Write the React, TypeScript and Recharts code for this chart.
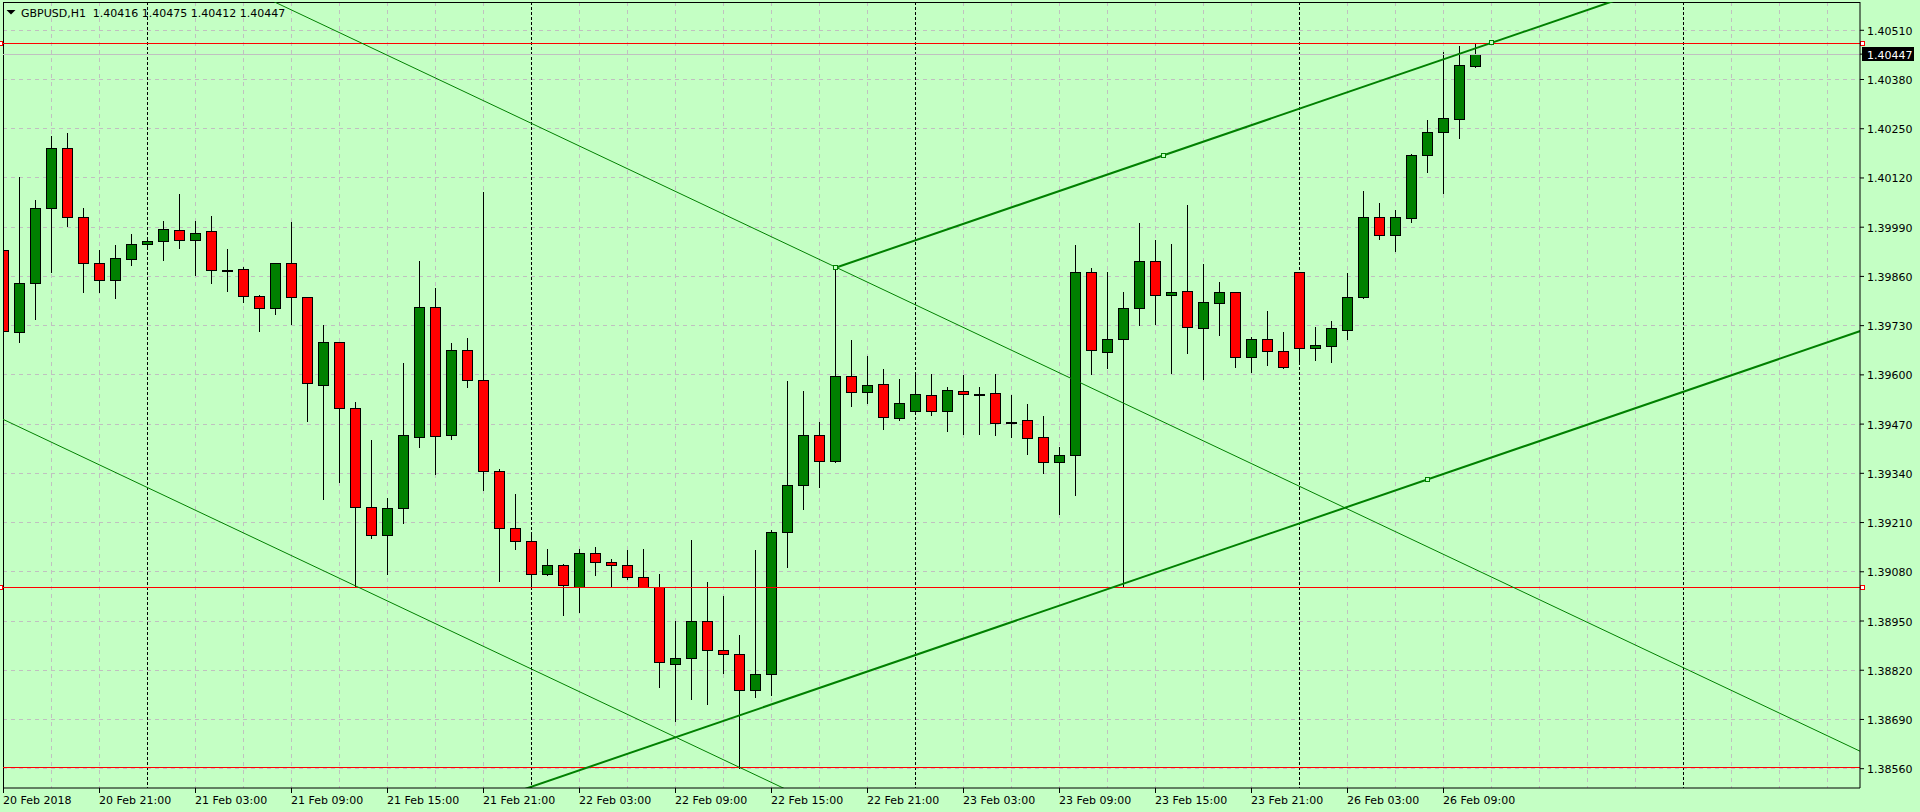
import React from 'react';
import { ComposedChart, Bar, XAxis, YAxis, ReferenceLine, ReferenceDot, CartesianGrid } from 'recharts';

// ---------- data ----------
const symbolTitle = 'GBPUSD,H1';

const opens = [
  1.39929, 1.39712, 1.39842, 1.40040, 1.40198, 1.40016, 1.39895, 1.39850, 1.39905, 1.39945,
  1.39953, 1.39982, 1.39955, 1.39979, 1.39877, 1.39879, 1.39808, 1.39776, 1.39895, 1.39805,
  1.39572, 1.39686, 1.39512, 1.39250, 1.39176, 1.39248, 1.39435, 1.39779, 1.39440, 1.39665,
  1.39586, 1.39347, 1.39195, 1.39160, 1.39073, 1.39099, 1.39041, 1.39129, 1.39107, 1.39099,
  1.39065, 1.39041, 1.38837, 1.38851, 1.38949, 1.38873, 1.38864, 1.38768, 1.38811, 1.39186,
  1.39310, 1.39440, 1.39373, 1.39596, 1.39555, 1.39575, 1.39486, 1.39504, 1.39546, 1.39504,
  1.39557, 1.39550, 1.39551, 1.39475, 1.39480, 1.39435, 1.39369, 1.39388, 1.39871, 1.39661,
  1.39694, 1.39776, 1.39900, 1.39810, 1.39821, 1.39723, 1.39789, 1.39818, 1.39646, 1.39694,
  1.39662, 1.39871, 1.39670, 1.39677, 1.39718, 1.39805, 1.40016, 1.39969, 1.40014, 1.40180,
  1.40241, 1.40275, 1.40416,
];
const highs = [
  1.40128, 1.40123, 1.40062, 1.40231, 1.40238, 1.40040, 1.39930, 1.39942, 1.39971, 1.39955,
  1.40006, 1.40078, 1.40006, 1.40020, 1.39932, 1.39885, 1.39811, 1.39896, 1.40004, 1.39806,
  1.39732, 1.39687, 1.39528, 1.39428, 1.39274, 1.39631, 1.39901, 1.39829, 1.39683, 1.39697,
  1.40083, 1.39352, 1.39285, 1.39179, 1.39140, 1.39100, 1.39140, 1.39146, 1.39113, 1.39138,
  1.39140, 1.39074, 1.38949, 1.39165, 1.39054, 1.39015, 1.38913, 1.39138, 1.39190, 1.39583,
  1.39557, 1.39475, 1.39883, 1.39693, 1.39649, 1.39616, 1.39588, 1.39602, 1.39602, 1.39569,
  1.39600, 1.39567, 1.39602, 1.39547, 1.39523, 1.39491, 1.39410, 1.39943, 1.39881, 1.39872,
  1.39819, 1.40001, 1.39956, 1.39946, 1.40049, 1.39893, 1.39845, 1.39819, 1.39701, 1.39769,
  1.39713, 1.39872, 1.39727, 1.39742, 1.39869, 1.40086, 1.40053, 1.40035, 1.40183, 1.40272,
  1.40452, 1.40469, 1.40475,
];
const lows = [
  1.39674, 1.39688, 1.39748, 1.39872, 1.39993, 1.39820, 1.39820, 1.39804, 1.39891, 1.39938,
  1.39904, 1.39936, 1.39864, 1.39843, 1.39822, 1.39793, 1.39717, 1.39762, 1.39735, 1.39479,
  1.39273, 1.39318, 1.39041, 1.39168, 1.39074, 1.39210, 1.39410, 1.39337, 1.39430, 1.39567,
  1.39295, 1.39056, 1.39141, 1.39040, 1.39071, 1.38965, 1.38973, 1.39071, 1.39041, 1.39060,
  1.39040, 1.38776, 1.38687, 1.38743, 1.38732, 1.38812, 1.38561, 1.38748, 1.38754, 1.39093,
  1.39245, 1.39304, 1.39371, 1.39519, 1.39527, 1.39458, 1.39482, 1.39502, 1.39493, 1.39451,
  1.39444, 1.39444, 1.39441, 1.39437, 1.39391, 1.39342, 1.39233, 1.39283, 1.39602, 1.39617,
  1.39040, 1.39732, 1.39735, 1.39606, 1.39659, 1.39590, 1.39704, 1.39622, 1.39608, 1.39626,
  1.39617, 1.39628, 1.39639, 1.39635, 1.39695, 1.39804, 1.39958, 1.39928, 1.40003, 1.40137,
  1.40081, 1.40226, 1.40412,
];
const closes = [
  1.39715, 1.39842, 1.40040, 1.40198, 1.40016, 1.39895, 1.39850, 1.39908, 1.39945, 1.39953,
  1.39984, 1.39955, 1.39974, 1.39876, 1.39877, 1.39808, 1.39776, 1.39895, 1.39805, 1.39578,
  1.39686, 1.39512, 1.39250, 1.39176, 1.39248, 1.39440, 1.39779, 1.39438, 1.39665, 1.39586,
  1.39347, 1.39195, 1.39160, 1.39073, 1.39099, 1.39046, 1.39129, 1.39107, 1.39099, 1.39065,
  1.39041, 1.38843, 1.38851, 1.38951, 1.38874, 1.38862, 1.38768, 1.38811, 1.39186, 1.39308,
  1.39440, 1.39373, 1.39596, 1.39555, 1.39572, 1.39488, 1.39527, 1.39549, 1.39504, 1.39559,
  1.39549, 1.39549, 1.39474, 1.39475, 1.39433, 1.39369, 1.39388, 1.39871, 1.39665, 1.39694,
  1.39776, 1.39900, 1.39810, 1.39818, 1.39726, 1.39792, 1.39818, 1.39646, 1.39694, 1.39662,
  1.39622, 1.39670, 1.39678, 1.39723, 1.39805, 1.40016, 1.39969, 1.40016, 1.40180, 1.40241,
  1.40278, 1.40418, 1.40447,
];

const priceTicks = [
  1.40510, 1.40380, 1.40250, 1.40120, 1.39990, 1.39860, 1.39730, 1.39600,
  1.39470, 1.39340, 1.39210, 1.39080, 1.38950, 1.38820, 1.38690, 1.38560,
];
const bidPrice = 1.40447;

const timeTickBars = [0, 6, 12, 18, 24, 30, 36, 42, 48, 54, 60, 66, 72, 78, 84, 90];
const timeTickLabels = [
  '20 Feb 2018', '20 Feb 21:00', '21 Feb 03:00', '21 Feb 09:00', '21 Feb 15:00', '21 Feb 21:00',
  '22 Feb 03:00', '22 Feb 09:00', '22 Feb 15:00', '22 Feb 21:00', '23 Feb 03:00', '23 Feb 09:00',
  '23 Feb 15:00', '23 Feb 21:00', '26 Feb 03:00', '26 Feb 09:00',
];
const daySeparatorBars = [9, 33, 57, 81, 105];
const gridBars = [
  0, 3, 6, 12, 15, 18, 21, 24, 27, 30, 36, 39, 42, 45, 48, 51, 54, 60, 63, 66, 69, 72, 75, 78,
  84, 87, 90, 93, 96, 99, 102, 108, 111, 114,
];

const redLevelsMarked = [1.40476, 1.39040];
const redLevelsPlain = [1.38562];

// trend lines (bar index, price)
const thinUpperLine = [{ k: 0, p: 1.40923 }, { k: 120, p: 1.38527 }];
const thinLowerLine = [{ k: -1, p: 1.39502 }, { k: 60, p: 1.38284 }];
const thickUpperLine = [{ k: 52, p: 1.39883 }, { k: 110, p: 1.40723 }];
const thickUpperAnchors = [{ k: 52, p: 1.39883 }, { k: 72.5, p: 1.40180 }, { k: 93, p: 1.40477 }];
const thickLowerLine = [{ k: 30, p: 1.38469 }, { k: 120, p: 1.39773 }];
const thickLowerAnchors = [{ k: 89, p: 1.39323 }];

// ---------- layout ----------
const X_DOMAIN: [number, number] = [-0.03125, 116.03125];
const Y_DOMAIN: [number, number] = [1.38509, 1.405847];
const BG = '#C4FFC4';
const GRID = '#C0C0C0';
const LINE_GREEN = '#008000';
const BULL = '#008000';
const BEAR = '#FF0000';
const FONT = '"DejaVu Sans", Verdana, sans-serif';

const candles = opens.map((o, i) => ({
  k: i,
  o,
  h: highs[i],
  l: lows[i],
  c: closes[i],
  range: [lows[i], highs[i]],
}));

function Candle(props: any) {
  const { x, y, width, height, payload } = props;
  if (!payload || height == null || isNaN(y)) return null;
  const cx = Math.floor(x + width / 2) + 0.5;
  const { o, h, l, c } = payload;
  const span = h - l || 1e-9;
  const toY = (v: number) => y + ((h - v) / span) * height;
  const yH = Math.round(y);
  const yL = Math.round(y + height);
  const yO = Math.round(toY(o));
  const yC = Math.round(toY(c));
  const top = Math.min(yO, yC);
  const bot = Math.max(yO, yC);
  const bull = c >= o;
  return (
    <g shapeRendering="crispEdges">
      <line x1={cx} x2={cx} y1={yH} y2={yL + 1} stroke="#000" strokeWidth={1} />
      <rect
        x={cx - 5}
        y={top + 0.5}
        width={10}
        height={Math.max(bot - top, 1)}
        fill={bull ? BULL : BEAR}
        stroke="#000"
        strokeWidth={1}
      />
    </g>
  );
}

function TimeTick(props: any) {
  const { x, y, payload } = props;
  const idx = timeTickBars.indexOf(payload.value);
  if (idx < 0) return null;
  return (
    <text x={x - 0.5} y={y + 10.5} fill="#000" fontFamily={FONT} fontSize={11} textAnchor="start">
      {timeTickLabels[idx]}
    </text>
  );
}

function PriceTick(props: any) {
  const { x, y, payload } = props;
  const v = payload.value as number;
  const label = v.toFixed(5);
  if (Math.abs(v - bidPrice) < 1e-9) {
    return (
      <g>
        <rect x={x - 5.5} y={Math.round(y) - 7} width={52} height={14} fill="#000" shapeRendering="crispEdges" />
        <text x={x} y={y + 4.5} fill="#fff" fontFamily={FONT} fontSize={11} textAnchor="start">
          {label}
        </text>
      </g>
    );
  }
  return (
    <text x={x} y={y + 4.5} fill="#000" fontFamily={FONT} fontSize={11} textAnchor="start">
      {label}
    </text>
  );
}

function MarkedRedLine(props: any) {
  const { x1, y1, x2, y2 } = props;
  const yy = Math.round(y1) + 0.5;
  return (
    <g shapeRendering="crispEdges">
      <line x1={x1} y1={yy} x2={x2} y2={Math.round(y2) + 0.5} stroke={BEAR} strokeWidth={1} />
      <rect x={x1 + 0.5} y={yy - 2} width={4} height={4} fill="#fff" stroke={BEAR} />
      <rect x={x2 - 4.5} y={yy - 2} width={4} height={4} fill="#fff" stroke={BEAR} />
    </g>
  );
}

function AnchorSquare(props: any) {
  const { cx, cy } = props;
  if (cx == null || cy == null) return null;
  const px = Math.floor(cx);
  const py = Math.floor(cy);
  return (
    <rect
      x={px - 1.5}
      y={py - 1.5}
      width={4}
      height={4}
      fill={BG}
      stroke={LINE_GREEN}
      strokeWidth={1}
      shapeRendering="crispEdges"
    />
  );
}

export default function App() {
  const last = candles[candles.length - 1];
  const ohlcText = [last.o, last.h, last.l, last.c].map((v) => v.toFixed(5)).join(' ');
  return (
    <div
      style={{
        position: 'absolute',
        left: 0,
        top: 0,
        width: 1920,
        height: 812,
        background: BG,
        overflow: 'hidden',
        fontFamily: FONT,
      }}
    >
      <ComposedChart
        width={1920}
        height={812}
        data={candles}
        margin={{ top: 2, right: 0, bottom: 0, left: 3 }}
      >
        <CartesianGrid
          stroke={GRID}
          strokeDasharray="4 4"
          fill="none"
          shapeRendering="crispEdges"
          horizontalValues={priceTicks}
          verticalValues={gridBars}
        />
        <CartesianGrid
          stroke="#000"
          strokeDasharray="3 2"
          fill="none"
          horizontal={false}
          shapeRendering="crispEdges"
          verticalValues={daySeparatorBars}
        />
        <XAxis
          dataKey="k"
          type="number"
          domain={X_DOMAIN}
          allowDataOverflow
          ticks={timeTickBars}
          interval={0}
          tickSize={5}
          tickMargin={0}
          height={24}
          axisLine={{ stroke: '#000' }}
          tickLine={{ stroke: '#000' }}
          tick={<TimeTick />}
        />
        <YAxis
          orientation="right"
          type="number"
          domain={Y_DOMAIN}
          allowDataOverflow
          ticks={[...priceTicks, bidPrice]}
          interval={0}
          width={60}
          tickSize={4}
          tickMargin={3}
          axisLine={{ stroke: '#000' }}
          tickLine={{ stroke: '#000' }}
          tick={<PriceTick />}
        />

        <ReferenceLine x={X_DOMAIN[0]} stroke="#000" shapeRendering="crispEdges" />
        <ReferenceLine y={Y_DOMAIN[1]} stroke="#000" shapeRendering="crispEdges" />

        <Bar dataKey="range" barSize={11} shape={(p: any) => <Candle {...p} />} isAnimationActive={false} />

        <ReferenceLine y={bidPrice} stroke={GRID} shapeRendering="crispEdges" />
        {redLevelsPlain.map((p) => (
          <ReferenceLine key={'rp' + p} y={p} stroke={BEAR} shapeRendering="crispEdges" />
        ))}
        {redLevelsMarked.map((p) => (
          <ReferenceLine key={'rm' + p} y={p} stroke={BEAR} shape={(pr: any) => <MarkedRedLine {...pr} />} />
        ))}

        <ReferenceLine
          segment={thinUpperLine.map((d) => ({ x: d.k, y: d.p }))}
          stroke={LINE_GREEN}
          strokeWidth={1}
          ifOverflow="hidden"
        />
        <ReferenceLine
          segment={thinLowerLine.map((d) => ({ x: d.k, y: d.p }))}
          stroke={LINE_GREEN}
          strokeWidth={1}
          ifOverflow="hidden"
        />
        <ReferenceLine
          segment={thickUpperLine.map((d) => ({ x: d.k, y: d.p }))}
          stroke={LINE_GREEN}
          strokeWidth={2}
          ifOverflow="hidden"
        />
        <ReferenceLine
          segment={thickLowerLine.map((d) => ({ x: d.k, y: d.p }))}
          stroke={LINE_GREEN}
          strokeWidth={2}
          ifOverflow="hidden"
        />
        {[...thickUpperAnchors, ...thickLowerAnchors].map((d, i) => (
          <ReferenceDot key={'an' + i} x={d.k} y={d.p} r={3} shape={(pr: any) => <AnchorSquare {...pr} />} />
        ))}
      </ComposedChart>

      <svg
        width={420}
        height={24}
        style={{ position: 'absolute', left: 0, top: 0, pointerEvents: 'none' }}
      >
        <polygon points="6.5,10 15.5,10 11,14.5" fill="#000" />
        <text x={21} y={16.7} fill="#000" fontFamily={FONT} fontSize={11}>
          {symbolTitle}
        </text>
        <text x={92.8} y={16.7} fill="#000" fontFamily={FONT} fontSize={11}>
          {ohlcText}
        </text>
      </svg>
    </div>
  );
}
